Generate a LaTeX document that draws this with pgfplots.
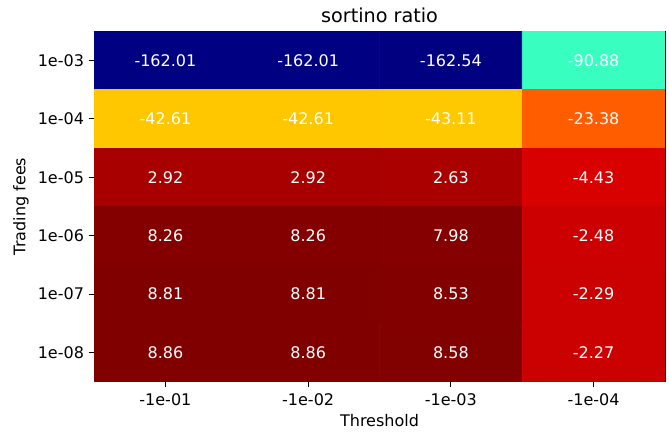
\documentclass[border=0pt]{standalone}
\usepackage{pgfplots}
\pgfplotsset{compat=1.18}
\usepackage{pgfplotstable}
\usepackage{fontspec}
\setmainfont{DejaVu Sans}
\pgfplotstableread{
x y c
0 0 -162.01
1 0 -162.01
2 0 -162.54
3 0 -90.88
0 1 -42.61
1 1 -42.61
2 1 -43.11
3 1 -23.38
0 2 2.92
1 2 2.92
2 2 2.63
3 2 -4.43
0 3 8.26
1 3 8.26
2 3 7.98
3 3 -2.48
0 4 8.81
1 4 8.81
2 4 8.53
3 4 -2.29
0 5 8.86
1 5 8.86
2 5 8.58
3 5 -2.27
}\heat
\pgfplotstableread{
x y lab
0 0 -162.01
1 0 -162.01
2 0 -162.54
3 0 -90.88
0 1 -42.61
1 1 -42.61
2 1 -43.11
3 1 -23.38
0 2 2.92
1 2 2.92
2 2 2.63
3 2 -4.43
0 3 8.26
1 3 8.26
2 3 7.98
3 3 -2.48
0 4 8.81
1 4 8.81
2 4 8.53
3 4 -2.29
0 5 8.86
1 5 8.86
2 5 8.58
3 5 -2.27
}\labels
\begin{document}
\begin{tikzpicture}
\begin{axis}[
  at={(0,0)}, anchor=south west,
  scale only axis, width=428pt, height=263pt,
  xmin=-0.5, xmax=3.5, ymin=-0.5, ymax=5.5,
  y dir=reverse,
  axis line style={black, line width=0.6pt},
  xtick={0,1,2,3}, ytick={0,1,2,3,4,5},
  xticklabels={\mbox{-1e-01},\mbox{-1e-02},\mbox{-1e-03},\mbox{-1e-04}},
  yticklabels={\mbox{1e-03},\mbox{1e-04},\mbox{1e-05},\mbox{1e-06},\mbox{1e-07},\mbox{1e-08}},
  xtick pos=bottom, ytick pos=left,
  tick align=outside,
  major tick length=4pt,
  tick style={black, line width=0.6pt},
  tick label style={font=\fontsize{12}{14}\selectfont},
  xticklabel style={yshift=-1pt},
  label style={font=\fontsize{12}{14}\selectfont},
  xlabel={Threshold},
  ylabel={Trading fees},
  title={sortino ratio},
  title style={font=\fontsize{14.4}{16}\selectfont, yshift=-3pt},
  colormap={mpljet}{rgb(0pt)=(0,0,0.5); rgb(110pt)=(0,0,1); rgb(125pt)=(0,0,1); rgb(340pt)=(0,0.86,1); rgb(350pt)=(0,0.9,0.968); rgb(375pt)=(0.081,1,0.887); rgb(640pt)=(0.935,1,0.032); rgb(650pt)=(0.968,0.963,0); rgb(660pt)=(1,0.926,0); rgb(890pt)=(1,0.074,0); rgb(910pt)=(0.909,0,0); rgb(1000pt)=(0.5,0,0)},
  point meta min=-162.54, point meta max=8.86,
]
\addplot[matrix plot*, mesh/cols=4, point meta=explicit] table[x=x, y=y, meta=c] {\heat};
\addplot[only marks, mark=none, nodes near coords, nodes near coords align=center,
  point meta=explicit symbolic,
  every node near coord/.append style={font=\fontsize{12}{14}\selectfont, text=white}]
  table[x=x, y=y, meta=lab] {\labels};
\end{axis}
\pgfresetboundingbox
\path (-70.5pt,-48pt) rectangle (431pt,286.25pt);
\end{tikzpicture}
\end{document}
